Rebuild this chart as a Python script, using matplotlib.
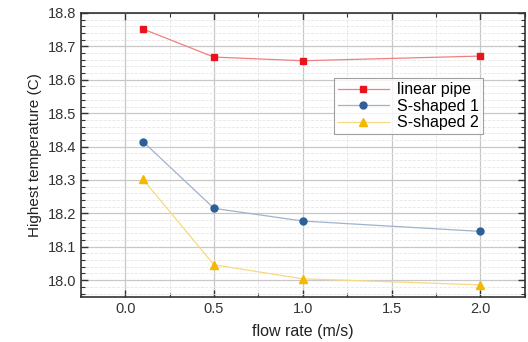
import matplotlib
matplotlib.use("Agg")
import matplotlib.pyplot as plt
from matplotlib.ticker import MultipleLocator, FormatStrFormatter

flow = [0.1, 0.5, 1.0, 2.0]
linear_pipe = [18.752, 18.668, 18.657, 18.671]
s_shaped_1 = [18.415, 18.215, 18.177, 18.146]
s_shaped_2 = [18.302, 18.046, 18.004, 17.986]
labels = ["linear pipe", "S-shaped 1", "S-shaped 2"]

plt.rcParams['font.family'] = ['Liberation Sans', 'DejaVu Sans']
fig = plt.figure(figsize=(5.28, 3.42), dpi=100)
ax = fig.add_axes([0.153, 0.132, 0.841, 0.830])

ax.plot(flow, linear_pipe, color='#f08080', lw=0.9, marker='s', ms=4.5,
        mfc='#e8131b', mec='#e8131b', label=labels[0])
ax.plot(flow, s_shaped_1, color='#9fb3cc', lw=0.9, marker='o', ms=5,
        mfc='#2e5f99', mec='#2e5f99', label=labels[1])
ax.plot(flow, s_shaped_2, color='#f7d980', lw=0.9, marker='^', ms=5.5,
        mfc='#f5b800', mec='#f5b800', label=labels[2])

ax.set_xlim(-0.25, 2.25)
ax.set_ylim(17.95, 18.8)
ax.xaxis.set_major_locator(MultipleLocator(0.5))
ax.xaxis.set_minor_locator(MultipleLocator(0.25))
ax.yaxis.set_major_locator(MultipleLocator(0.1))
ax.yaxis.set_minor_locator(MultipleLocator(0.02))
ax.xaxis.set_major_formatter(FormatStrFormatter('%.1f'))
ax.yaxis.set_major_formatter(FormatStrFormatter('%.1f'))

ax.grid(which='major', color='#c8c8c8', lw=0.9)
ax.grid(which='minor', color='#e6e6e6', lw=0.6, ls='--')
ax.set_axisbelow(True)

ax.tick_params(which='both', direction='in', top=True, right=True, colors='#333333',
               labelsize=10.5)
ax.tick_params(which='major', length=5, width=1)
ax.tick_params(which='minor', length=3, width=0.8)
for sp in ax.spines.values():
    sp.set_color('#333333')
    sp.set_linewidth(1.2)

ax.set_xlabel('flow rate (m/s)', fontsize=11.5, color='#222222', labelpad=6)
ax.set_ylabel('Highest temperature (C)', fontsize=11, color='#222222', labelpad=4)

leg = ax.legend(loc='upper left', bbox_to_anchor=(0.57, 0.77), fontsize=11.5,
                frameon=True, fancybox=False, edgecolor='#888888',
                borderpad=0.25, labelspacing=0.1, handlelength=3.2, handletextpad=0.5,
                borderaxespad=0)
leg.get_frame().set_linewidth(0.8)

fig.savefig('out.png', dpi=100)
